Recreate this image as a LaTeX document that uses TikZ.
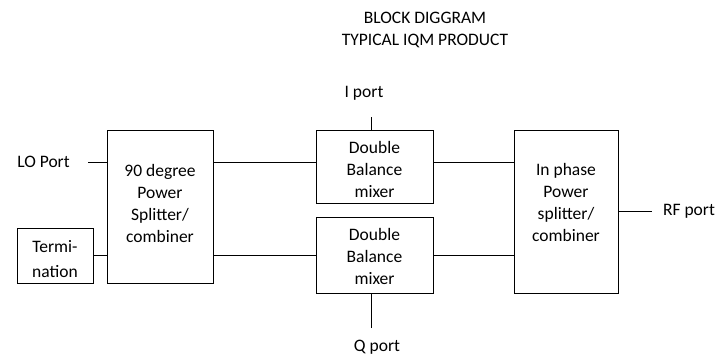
\documentclass[tikz,border=0pt]{standalone}
\usepackage{fontspec}
\setmainfont{Carlito}
\begin{document}
\begin{tikzpicture}[x=1pt,y=-1pt,
  box/.style={draw,line width=0.9pt,rectangle,inner sep=0pt,align=center},
  txt/.style={align=center,inner sep=0pt},
  wire/.style={line width=0.9pt},
  every node/.append style={font=\fontsize{17.5}{22}\selectfont}]
\useasboundingbox (0,0) rectangle (728,354);
% title
\node[txt] (title) at (425,29.5) {BLOCK DIGGRAM\\TYPICAL IQM PRODUCT};
% blocks
\node[box,minimum width=106pt,minimum height=153pt] (split) at (160,206.5) {};
\node[txt] (splitt) at (160,203) {90 degree\\Power\\Splitter/\\combiner};
\node[box,minimum width=76pt,minimum height=55pt] (term) at (55,255.5) {};
\node[txt,font=\fontsize{17.5}{25}\selectfont] (termt) at (55,259) {Termi-\\nation};
\node[box,minimum width=117pt,minimum height=73pt] (mixI) at (374.5,166.5) {};
\node[txt] (mixIt) at (374.5,169) {Double\\Balance\\mixer};
\node[box,minimum width=117pt,minimum height=76pt] (mixQ) at (374.5,255) {};
\node[txt] (mixQt) at (374.5,256) {Double\\Balance\\mixer};
\node[box,minimum width=104pt,minimum height=163pt] (comb) at (566,211.5) {};
\node[txt] (combt) at (566,202.5) {In phase\\Power\\splitter/\\combiner};
% port labels
\node[txt] (lo) at (43.5,162) {LO Port};
\node[txt] (ip) at (364,93) {I port};
\node[txt] (qp) at (377,347) {Q port};
\node[txt] (rf) at (689,211) {RF port};
% free ends
\coordinate (loend) at (88,162);
\coordinate (iend) at (371,117);
\coordinate (qend) at (371,328);
\coordinate (rfend) at (652,211.5);
% wires
\draw[wire] (loend) -- (loend -| split.west);
\draw[wire] (term.east) -- (term.east -| split.west);
\draw[wire] (split.east |- loend) -- (mixI.west |- loend);
\draw[wire] (split.east |- mixQ.west) -- (mixQ.west);
\draw[wire] (mixI.east |- loend) -- (comb.west |- loend);
\draw[wire] (mixQ.east) -- (mixQ.east -| comb.west);
\draw[wire] (comb.east) -- (rfend);
\draw[wire] (iend) -- (iend |- mixI.north);
\draw[wire] (qend) -- (qend |- mixQ.south);
\end{tikzpicture}
\end{document}
